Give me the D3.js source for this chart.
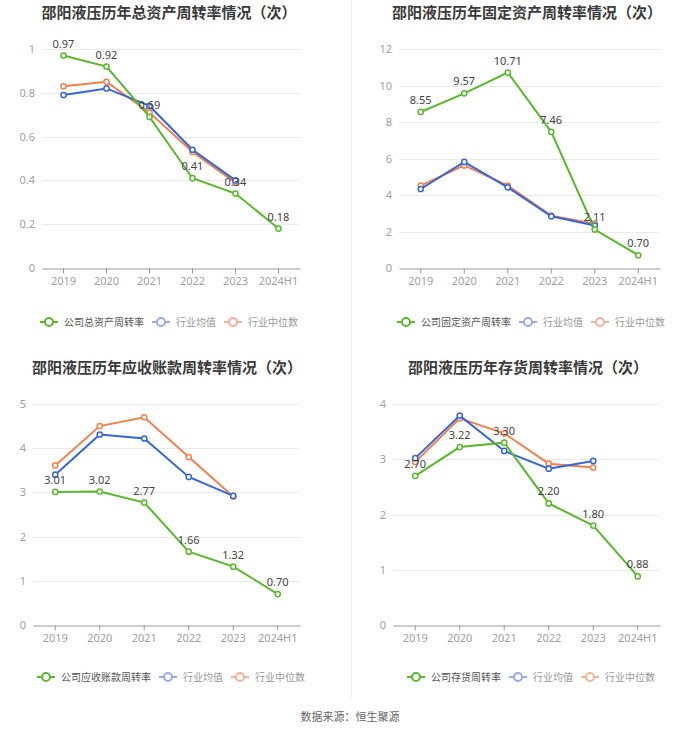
<!DOCTYPE html>
<html><head><meta charset="utf-8">
<script src="https://cdn.jsdelivr.net/npm/d3@7"></script>
<style>
html,body{margin:0;padding:0;background:#fff;}
svg{display:block;font-family:"Noto Sans CJK SC","Noto Sans",sans-serif;}
</style></head>
<body><svg id="c" width="700" height="734"></svg>
<script>
const categories = ["2019","2020","2021","2022","2023","2024H1"];

const titles = ["邵阳液压历年总资产周转率情况（次）","邵阳液压历年固定资产周转率情况（次）","邵阳液压历年应收账款周转率情况（次）","邵阳液压历年存货周转率情况（次）"];
const companyNames = ["公司总资产周转率","公司固定资产周转率","公司应收账款周转率","公司存货周转率"];
const industryNames = ["行业均值","行业中位数"];

const totalAsset = [0.97,0.92,0.69,0.41,0.34,0.18];
const totalAssetAvg = [0.79,0.82,0.74,0.54,0.40];
const totalAssetMed = [0.83,0.85,0.71,0.53,0.39];

const fixedAsset = [8.55,9.57,10.71,7.46,2.11,0.70];
const fixedAssetAvg = [4.33,5.81,4.42,2.83,2.33];
const fixedAssetMed = [4.51,5.62,4.51,2.87,2.43];

const receivable = [3.01,3.02,2.77,1.66,1.32,0.70];
const receivableAvg = [3.40,4.31,4.22,3.35,2.92];
const receivableMed = [3.61,4.50,4.70,3.80,2.91];

const inventory = [2.70,3.22,3.30,2.20,1.80,0.88];
const inventoryAvg = [3.02,3.79,3.15,2.83,2.97];
const inventoryMed = [2.95,3.74,3.47,2.92,2.85];

const yTicks1 = [0,0.2,0.4,0.6,0.8,1];
const yTicks2 = [0,2,4,6,8,10,12];
const yTicks3 = [0,1,2,3,4,5];
const yTicks4 = [0,1,2,3,4];

const GREEN="#5ab82c", BLUE="#3565d6", ORANGE="#f0804c";
const BLUE_L="#93abe6", ORANGE_L="#f4b197";

const panels = [
  {title:titles[0], name:companyNames[0], comp:totalAsset, avg:totalAssetAvg, med:totalAssetMed, ticks:yTicks1,
   x0:42,x1:300,y0:268,y1:49, tx:169, ty:18, lx:40, ly:322},
  {title:titles[1], name:companyNames[1], comp:fixedAsset, avg:fixedAssetAvg, med:fixedAssetMed, ticks:yTicks2,
   x0:399,x1:660,y0:268,y1:49, tx:527, ty:18, lx:397, ly:322},
  {title:titles[2], name:companyNames[2], comp:receivable, avg:receivableAvg, med:receivableMed, ticks:yTicks3,
   x0:33,x1:300,y0:625,y1:404, tx:167, ty:373, lx:37, ly:677},
  {title:titles[3], name:companyNames[3], comp:inventory, avg:inventoryAvg, med:inventoryMed, ticks:yTicks4,
   x0:393,x1:660,y0:625,y1:404, tx:528, ty:373, lx:407, ly:677}
];

const svg = d3.select("#c");

// divider
svg.append("line").attr("x1",351.5).attr("x2",351.5).attr("y1",0).attr("y2",700)
  .attr("stroke","#f0f0f0").attr("stroke-width",1);

panels.forEach(p=>{
  const g = svg.append("g");
  const x = d3.scaleBand().domain(categories).range([p.x0,p.x1]);
  const y = d3.scaleLinear().domain([0,d3.max(p.ticks)]).range([p.y0,p.y1]);
  const cx = d => x(d)+x.bandwidth()/2;

  g.append("text").attr("x",p.tx).attr("y",p.ty).attr("text-anchor","middle")
    .attr("font-size",15).attr("font-weight","bold").attr("fill","#3b3b3b").text(p.title);

  // grid
  g.selectAll(".grid").data(p.ticks.filter(t=>t>0)).enter().append("line")
    .attr("x1",p.x0).attr("x2",p.x1).attr("y1",d=>Math.round(y(d))+0.5).attr("y2",d=>Math.round(y(d))+0.5)
    .attr("stroke","#e9e9e9");

  // y axis labels
  const ya = g.append("g").attr("transform",`translate(${p.x0},0)`)
    .call(d3.axisLeft(y).tickValues(p.ticks).tickSize(0).tickPadding(7).tickFormat(d3.format("~g")));
  ya.select(".domain").remove();
  ya.selectAll("text").attr("fill","#a0a0a0").attr("font-size",11).attr("font-family","Noto Sans, sans-serif");

  // x axis
  const xa = g.append("g").attr("transform",`translate(0,${Math.round(p.y0)+0.5})`)
    .call(d3.axisBottom(x).tickSize(5).tickPadding(4).tickSizeOuter(0));
  xa.select(".domain").attr("stroke","#999");
  xa.selectAll(".tick line").attr("stroke","#999");
  xa.selectAll("text").attr("fill","#a0a0a0").attr("font-size",11).attr("font-family","Noto Sans, sans-serif");

  const line = d3.line().x((d,i)=>cx(categories[i])).y(d=>y(d));
  const series = [{v:p.med,c:ORANGE},{v:p.avg,c:BLUE},{v:p.comp,c:GREEN}];
  series.forEach(s=>{
    g.append("path").datum(s.v).attr("d",line).attr("fill","none").attr("stroke",s.c).attr("stroke-width",2);
    g.selectAll(null).data(s.v).enter().append("circle")
      .attr("cx",(d,i)=>cx(categories[i])).attr("cy",d=>y(d)).attr("r",2.6)
      .attr("fill","#fff").attr("stroke",s.c).attr("stroke-width",1.5);
  });

  // labels
  g.selectAll(null).data(p.comp).enter().append("text")
    .attr("x",(d,i)=>cx(categories[i])).attr("y",d=>y(d)-8).attr("text-anchor","middle")
    .attr("font-size",11).attr("fill","#444").attr("font-family","Noto Sans, sans-serif")
    .text(d=>d.toFixed(2));

  // legend
  const items = [{t:p.name,c:GREEN,tc:"#555"},{t:industryNames[0],c:BLUE_L,tc:"#999"},{t:industryNames[1],c:ORANGE_L,tc:"#999"}];
  let lx = p.lx;
  items.forEach(it=>{
    const lg = g.append("g");
    lg.append("line").attr("x1",lx).attr("x2",lx+18).attr("y1",p.ly).attr("y2",p.ly).attr("stroke",it.c).attr("stroke-width",2);
    lg.append("circle").attr("cx",lx+9).attr("cy",p.ly).attr("r",4).attr("fill","#fff").attr("stroke",it.c).attr("stroke-width",2);
    const t = lg.append("text").attr("x",lx+24).attr("y",p.ly+3.5).attr("font-size",10).attr("fill",it.tc).text(it.t);
    lx += 24 + t.node().getComputedTextLength() + 8;
  });
});

svg.append("text").attr("x",350).attr("y",721).attr("text-anchor","middle")
  .attr("font-size",11).attr("fill","#666").text("数据来源：恒生聚源");
</script></body></html>
